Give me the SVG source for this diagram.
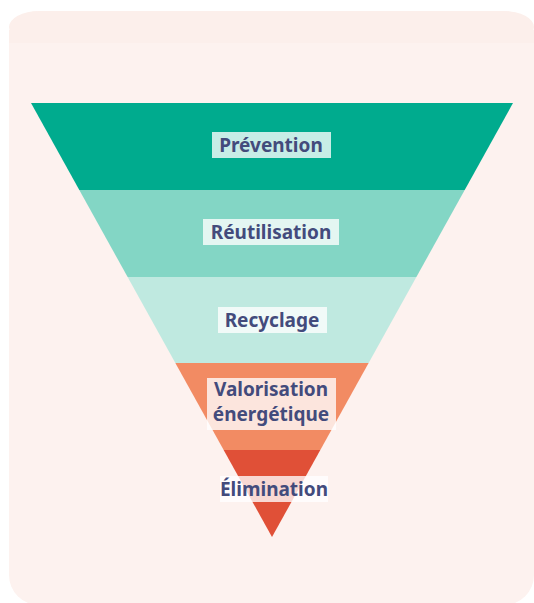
<svg xmlns="http://www.w3.org/2000/svg" width="534" height="603" viewBox="0 0 534 603">
<style>
.lbl{font-family:"Noto Sans","Open Sans",sans-serif;font-weight:700;font-size:19px;fill:#434b7c;text-anchor:middle}
.box{fill:#ffffff;fill-opacity:0.78}
</style>
<defs>
<clipPath id="tri"><polygon points="31,103 513,103 272,537"/></clipPath>
</defs>
<rect x="9" y="11" width="525" height="594" rx="30" fill="#fdf2ef"/>
<rect x="9" y="11" width="525" height="32" rx="30" fill="#fcefeb"/>
<rect x="9" y="30" width="525" height="13" fill="#fcefeb"/>
<g clip-path="url(#tri)">
<g id="prevention"><rect x="0" y="103" width="534" height="87" fill="#00ab8e"/></g>
<g id="reutilisation"><rect x="0" y="190" width="534" height="87" fill="#83d6c5"/></g>
<g id="recyclage"><rect x="0" y="277" width="534" height="86" fill="#bfe9e0"/></g>
<g id="valorisation"><rect x="0" y="363" width="534" height="87" fill="#f28b63"/></g>
<g id="elimination"><rect x="0" y="450" width="534" height="90" fill="#e05037"/></g>
</g>
<g id="labels">
<rect class="box" x="212" y="132" width="119" height="26"/>
<text class="lbl" x="271" y="152">Prévention</text>
<rect class="box" x="203" y="219" width="136" height="26"/>
<text class="lbl" x="271" y="239">Réutilisation</text>
<rect class="box" x="218" y="307" width="109" height="26"/>
<text class="lbl" x="272" y="327">Recyclage</text>
<rect class="box" x="207" y="378" width="129" height="52"/>
<text class="lbl" x="271" y="396">Valorisation</text>
<text class="lbl" x="271" y="421">énergétique</text>
<rect class="box" x="220" y="476" width="108" height="26"/>
<text class="lbl" x="274" y="496">Élimination</text>
</g>
<g id="connectors"/>
</svg>
